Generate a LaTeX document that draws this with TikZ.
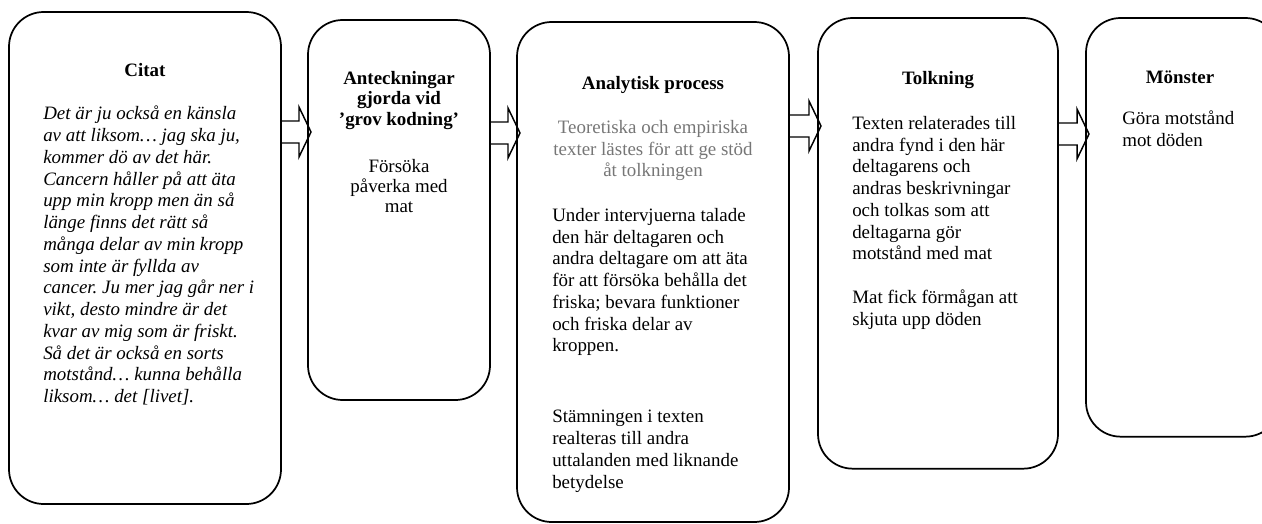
\documentclass[tikz,border=0pt]{standalone}
\usepackage{fontspec}
\setmainfont{Liberation Serif}
\usetikzlibrary{calc}
\definecolor{notegray}{RGB}{118,118,118}
\frenchspacing

\begin{document}
\begin{tikzpicture}[x=0.75pt,y=-0.75pt,
  box/.style={draw, line width=1.3pt, rounded corners=26pt, inner sep=0pt, outer sep=0pt, anchor=north west},
  heading/.style={font=\fontsize{14.2}{16.3}\selectfont\bfseries, inner sep=0pt, anchor=base},
  body/.style={font=\fontsize{14.2}{16.3}\selectfont, inner sep=0pt, anchor=north west, align=left, execute at begin node=\strut},
  blockarrow/.style={line width=1.1pt, line join=miter}]
\useasboundingbox (0,0) rectangle (1262,524);
% Boxes
\node[box, minimum width=204pt, minimum height=369pt] (citat) at (9,12) {};
\node[box, minimum width=136.5pt, minimum height=285pt] (anteck) at (308,20) {};
\node[box, minimum width=204pt, minimum height=375pt] (analys) at (517,22) {};
\node[box, minimum width=180pt, minimum height=338pt] (tolk) at (818,18) {};
\node[box, minimum width=145.5pt, minimum height=314pt] (monster) at (1086,18) {};
% Citat
\node[heading] (citatT) at (145,77) {Citat};
\node[body, font=\fontsize{14.2}{16.3}\selectfont\itshape] (citatB) at (43,106) {Det är ju också en känsla\\av att liksom… jag ska ju,\\kommer dö av det här.\\Cancern håller på att äta\\upp min kropp men än så\\länge finns det rätt så\\många delar av min kropp\\som inte är fyllda av\\cancer. Ju mer jag går ner i\\vikt, desto mindre är det\\kvar av mig som är friskt.\\Så det är också en sorts\\motstånd… kunna behålla\\liksom… det [livet].};
% Anteckningar
\node[heading, font=\fontsize{14.2}{15.4}\selectfont\bfseries, anchor=north, align=center, execute at begin node=\strut] (anteckT) at (399,71) {Anteckningar\\gjorda vid\\’grov kodning’};
\node[body, font=\fontsize{14.2}{15.2}\selectfont, anchor=north, align=center] (anteckB) at (399,159) {Försöka\\påverka med\\mat};
% Analytisk process
\node[heading] (analysT) at (653,90) {Analytisk process};
\node[body, anchor=north, align=center, text=notegray] (analysG) at (653,120) {Teoretiska och empiriska\\texter lästes för att ge stöd\\åt tolkningen};
\node[body] (analysB) at (552,208) {Under intervjuerna talade\\den här deltagaren och\\andra deltagare om att äta\\för att försöka behålla det\\friska; bevara funktioner\\och friska delar av\\kroppen.};
\node[body] (analysC) at (552,410) {Stämningen i texten\\realteras till andra\\uttalanden med liknande\\betydelse};
% Tolkning
\node[heading] (tolkT) at (938,85) {Tolkning};
\node[body] (tolkB) at (852,116) {Texten relaterades till\\andra fynd i den här\\deltagarens och\\andras beskrivningar\\och tolkas som att\\deltagarna gör\\motstånd med mat};
\node[body] (tolkC) at (852,290) {Mat fick förmågan att\\skjuta upp döden};
% Monster
\node[heading] (monsterT) at (1180,84) {Mönster};
\node[body] (monsterB) at (1122,111) {Göra motstånd\\mot döden};
% Arrows
\draw[blockarrow] (citat.east |- 0,121) -- ($(anteck.west |- 0,121)+(-9,0)$) -- ($(anteck.west |- 0,107)+(-9,0)$) -- ($(anteck.west |- 0,132)+(3,0)$) -- ($(anteck.west |- 0,157)+(-9,0)$) -- ($(anteck.west |- 0,143)+(-9,0)$) -- (citat.east |- 0,143);
\draw[blockarrow] (anteck.east |- 0,122) -- ($(analys.west |- 0,122)+(-9,0)$) -- ($(analys.west |- 0,108)+(-9,0)$) -- ($(analys.west |- 0,133)+(3,0)$) -- ($(analys.west |- 0,158)+(-9,0)$) -- ($(analys.west |- 0,144)+(-9,0)$) -- (anteck.east |- 0,144);
\draw[blockarrow] (analys.east |- 0,115) -- ($(tolk.west |- 0,115)+(-9,0)$) -- ($(tolk.west |- 0,101)+(-9,0)$) -- ($(tolk.west |- 0,126)+(3,0)$) -- ($(tolk.west |- 0,151)+(-9,0)$) -- ($(tolk.west |- 0,137)+(-9,0)$) -- (analys.east |- 0,137);
\draw[blockarrow] (tolk.east |- 0,123) -- ($(monster.west |- 0,123)+(-9,0)$) -- ($(monster.west |- 0,109)+(-9,0)$) -- ($(monster.west |- 0,134)+(3,0)$) -- ($(monster.west |- 0,159)+(-9,0)$) -- ($(monster.west |- 0,145)+(-9,0)$) -- (tolk.east |- 0,145);
\end{tikzpicture}
\end{document}
